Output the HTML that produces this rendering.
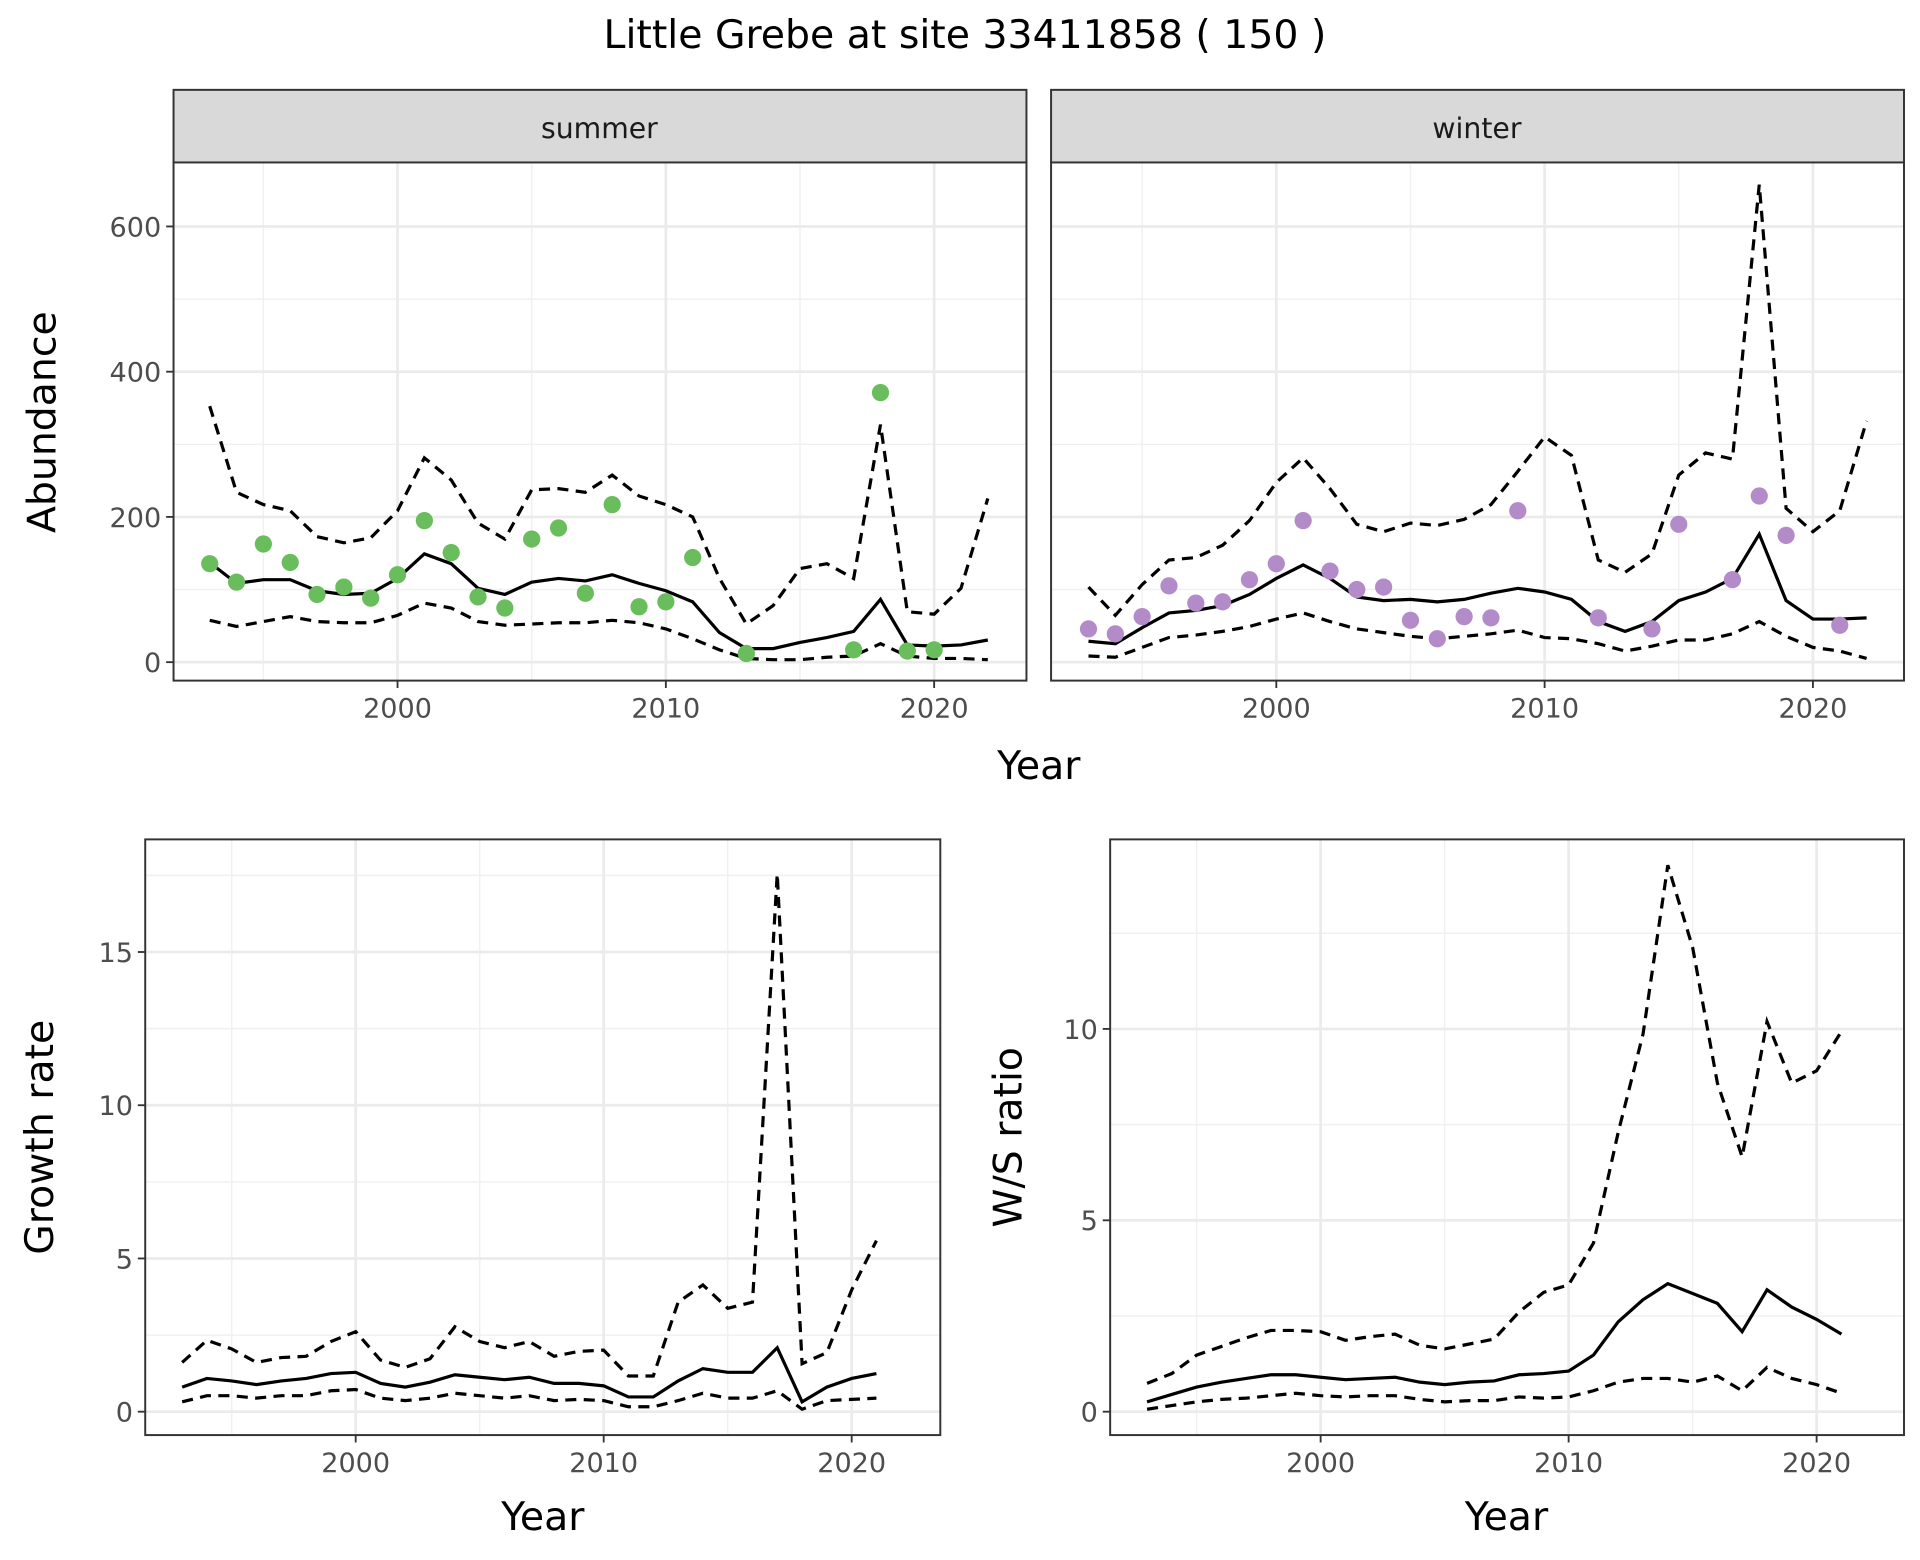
<!DOCTYPE html>
<html><head><meta charset="utf-8"><style>html,body{margin:0;padding:0;background:#fff}svg{display:block}</style></head>
<body>
<svg id="s" xmlns="http://www.w3.org/2000/svg" width="1920" height="1560" viewBox="0 0 1560 1267.5" font-family="DejaVu Sans, Liberation Sans, sans-serif"></svg>
<script>
const S=document.getElementById('s');let h='';
h+='<rect width="1560" height="1268" fill="#fff"/>';
h+='<text x="784" y="39" font-size="32" text-anchor="middle" fill="#000">Little Grebe at site 33411858 ( 150 )</text>';
function panel(P){
 const {x0,x1,y0,y1,xa,xb,ya,yb,yt,series,pts,col}=P;
 const X=v=>xa+(v-2000)*xb, Y=v=>ya-v*yb;
 let g='<rect x="'+x0+'" y="'+y0+'" width="'+(x1-x0)+'" height="'+(y1-y0)+'" fill="#fff"/>';
 for(const m of [1995,2005,2015]){const x=X(m);if(x>x0&&x<x1)g+='<line x1="'+x+'" x2="'+x+'" y1="'+y0+'" y2="'+y1+'" stroke="#f0f0f0" stroke-width="1.2"/>';}
 for(let i=0;i<yt.length;i++){const m=yt[i]+(yt[1]-yt[0])/2;const y=Y(m);if(y>y0&&y<y1)g+='<line x1="'+x0+'" x2="'+x1+'" y1="'+y+'" y2="'+y+'" stroke="#f0f0f0" stroke-width="1.2"/>';}
 for(const m of [2000,2010,2020]){const x=X(m);g+='<line x1="'+x+'" x2="'+x+'" y1="'+y0+'" y2="'+y1+'" stroke="#ebebeb" stroke-width="2.2"/>';
   g+='<line x1="'+x+'" x2="'+x+'" y1="'+y1+'" y2="'+(y1+6)+'" stroke="#333" stroke-width="1.5"/>';
   g+='<text x="'+x+'" y="'+(y1+30)+'" font-size="22" text-anchor="middle" fill="#4d4d4d">'+m+'</text>';}
 for(const t of yt){const y=Y(t);g+='<line x1="'+x0+'" x2="'+x1+'" y1="'+y+'" y2="'+y+'" stroke="#ebebeb" stroke-width="2.2"/>';
   if(P.lab){g+='<line x1="'+(x0-6)+'" x2="'+x0+'" y1="'+y+'" y2="'+y+'" stroke="#333" stroke-width="1.5"/>';
   g+='<text x="'+(x0-10)+'" y="'+(y+8)+'" font-size="22" text-anchor="end" fill="#4d4d4d">'+t+'</text>';}}
 for(const s of series){let d='';s.d.forEach((v,i)=>{d+=(i?'L':'M')+X(s.s+i).toFixed(1)+','+v;});
   g+='<path d="'+d+'" fill="none" stroke="#000" stroke-width="2.6"'+(s.dash?' stroke-dasharray="9,6"':'')+'/>';}
 if(pts)for(const p of pts)g+='<circle cx="'+X(p[0])+'" cy="'+p[1]+'" r="7" fill="'+col+'"/>';
 g+='<rect x="'+x0+'" y="'+y0+'" width="'+(x1-x0)+'" height="'+(y1-y0)+'" fill="none" stroke="#333" stroke-width="1.6"/>';
 return g;}
h+='<rect x="141" y="73" width="693" height="59" fill="#d9d9d9" stroke="#333" stroke-width="1.6"/><text x="487" y="112" font-size="23" text-anchor="middle" fill="#1a1a1a">summer</text>';
h+='<rect x="854" y="73" width="693" height="59" fill="#d9d9d9" stroke="#333" stroke-width="1.6"/><text x="1200" y="112" font-size="23" text-anchor="middle" fill="#1a1a1a">winter</text>';
h+=panel({x0:141,x1:834,y0:132,y1:553,xa:323,xb:21.8,ya:538,yb:0.59,yt:[0,200,400,600],lab:1,col:'#6abd5c',
 series:[
 {s:1993,d:[457,474,471,471,480,483,482,470,450,458,478,483,473,470,472,467,474,480,489,514,527,527,522,518,513,487,524,525,524,520]},
 {s:1993,dash:1,d:[330,400,410,415,436,441,437,415,372,390,425,438,398,397,400,386,403,410,420,470,507,492,462,458,470,345,497,499,478,405]},
 {s:1993,dash:1,d:[504,509,505,501,505,506,506,500,490,494,505,508,507,506,506,504,506,511,519,528,535,536,536,534,533,523,533,535,535,536]}],
 pts:[[1993,458],[1994,473],[1995,442],[1996,457],[1997,483],[1998,477],[1999,486],[2000,467],[2001,423],[2002,449],[2003,485],[2004,494],[2005,438],[2006,429],[2007,482],[2008,410],[2009,493],[2010,489],[2011,453],[2013,531],[2017,528],[2018,319],[2019,529],[2020,528]]});
h+=panel({x0:854,x1:1547,y0:132,y1:553,xa:1037,xb:21.8,ya:538,yb:0.59,yt:[0,200,400,600],lab:0,col:'#b38bc8',
 series:[
 {s:1993,d:[521,523,510,498,496,492,483,470,459,470,485,488,487,489,487,482,478,481,487,505,513,505,488,481,470,434,488,503,503,502]},
 {s:1993,dash:1,d:[477,500,475,455,453,443,423,392,372,397,426,432,425,427,422,410,383,355,370,455,465,450,386,368,373,150,413,432,415,342]},
 {s:1993,dash:1,d:[533,534,526,518,516,513,509,503,498,505,511,514,517,519,517,515,512,518,519,523,529,525,520,520,515,505,517,526,529,535]}],
 pts:[[1993,511],[1994,515],[1995,501],[1996,476],[1997,490],[1998,489],[1999,471],[2000,458],[2001,423],[2002,464],[2003,479],[2004,477],[2005,504],[2006,519],[2007,501],[2008,502],[2009,415],[2012,502],[2014,511],[2015,426],[2017,471],[2018,403],[2019,435],[2021,508]]});
h+='<text x="844" y="633" font-size="32" text-anchor="middle" fill="#000">Year</text>';
h+='<text transform="translate(45,343) rotate(-90)" font-size="32" text-anchor="middle" fill="#000">Abundance</text>';
h+=panel({x0:118,x1:764,y0:682,y1:1166,xa:289,xb:20.15,ya:1147,yb:24.9,yt:[0,5,10,15],lab:1,
 series:[
 {s:1993,d:[1127,1120,1122,1125,1122,1120,1116,1115,1124,1127,1123,1117,1119,1121,1119,1124,1124,1126,1135,1135,1122,1112,1115,1115,1095,1139,1127,1120,1116]},
 {s:1993,dash:1,d:[1107,1089,1096,1107,1103,1102,1090,1082,1105,1111,1104,1078,1090,1095,1090,1102,1098,1097,1118,1118,1058,1044,1063,1058,710,1108,1099,1048,1008]},
 {s:1993,dash:1,d:[1139,1134,1134,1136,1134,1134,1130,1129,1136,1138,1136,1132,1134,1136,1134,1138,1137,1138,1143,1143,1138,1132,1136,1136,1130,1145,1138,1137,1136]}]});
h+='<text x="441" y="1243" font-size="32" text-anchor="middle" fill="#000">Year</text>';
h+='<text transform="translate(43,924) rotate(-90)" font-size="32" text-anchor="middle" fill="#000">Growth rate</text>';
h+=panel({x0:902,x1:1547,y0:682,y1:1166,xa:1073,xb:20.15,ya:1147,yb:31.1,yt:[0,5,10],lab:1,
 series:[
 {s:1993,d:[1139,1133,1127,1123,1120,1117,1117,1119,1121,1120,1119,1123,1125,1123,1122,1117,1116,1114,1101,1074,1056,1043,1051,1059,1082,1048,1062,1072,1084]},
 {s:1993,dash:1,d:[1124,1116,1101,1094,1087,1081,1081,1082,1089,1086,1084,1093,1096,1092,1088,1066,1050,1044,1010,920,840,703,770,880,940,830,880,870,838]},
 {s:1993,dash:1,d:[1145,1142,1139,1137,1136,1134,1132,1134,1135,1134,1134,1137,1139,1138,1138,1135,1136,1135,1130,1123,1120,1120,1123,1118,1130,1111,1120,1125,1132]}]});
h+='<text x="1224" y="1243" font-size="32" text-anchor="middle" fill="#000">Year</text>';
h+='<text transform="translate(830,924) rotate(-90)" font-size="32" text-anchor="middle" fill="#000">W/S ratio</text>';
S.innerHTML=h;
</script>
</body></html>
